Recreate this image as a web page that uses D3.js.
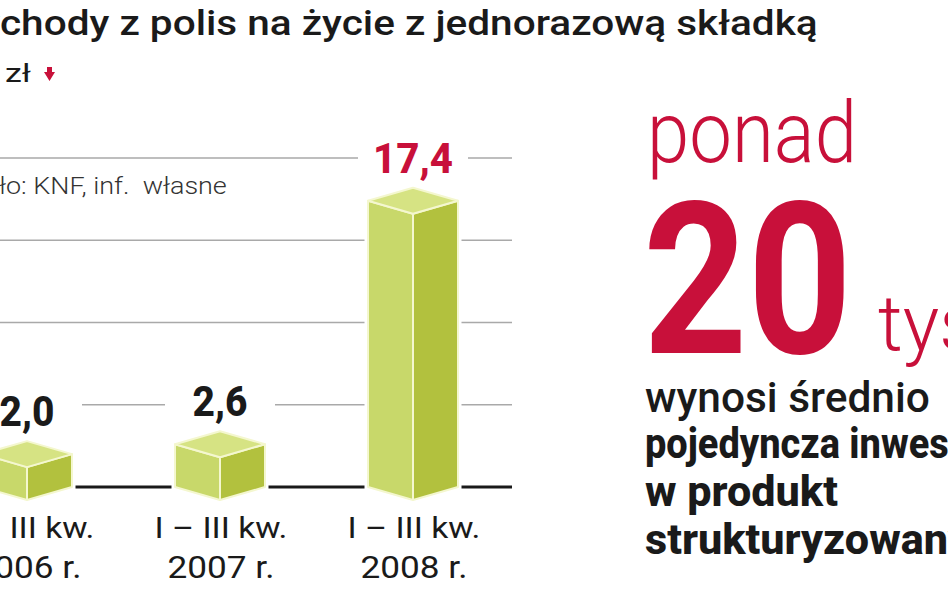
<!DOCTYPE html>
<html><head><meta charset="utf-8">
<script src="https://cdn.jsdelivr.net/npm/d3@7"></script>
<style>html,body{margin:0;padding:0;background:#fff;overflow:hidden}svg{display:block}text{white-space:pre}</style>
</head><body>
<script>
// ---- data ----
const periods = ["I – III kw.", "I – III kw.", "I – III kw."];
const years = ["2006 r.", "2007 r.", "2008 r."];
const values = [2.0, 2.6, 17.4];
const valueLabels = ["2,0", "2,6", "17,4"];
const gridTicks = [5, 10, 15, 20];
const title = "Przychody z polis na życie z jednorazową składką";
const unit = "w mld zł";
const source = "Źródło: KNF, inf.  własne";
const bigPre = "ponad";
const bigNum = "20";
const bigUnit = "tys. zł";
const sideLines = ["wynosi średnio", "pojedyncza inwestycja", "w produkt", "strukturyzowany"];

const W = 948, H = 593;
const RED = "#c8103a", FONT = "Roboto, 'DejaVu Sans', sans-serif";
const svg = d3.select("body").append("svg").attr("width", W).attr("height", H);
svg.append("rect").attr("width", W).attr("height", H).attr("fill", "#fff");

// helper: draw text, scale horizontally so that substring [s, s+n) has given width
function txt(o) {
  const t = svg.append("text").text(o.text)
    .attr("font-family", FONT).attr("font-size", o.size)
    .attr("font-weight", o.weight || 400).attr("fill", o.fill || "#1a1a1a");
  const node = t.node();
  const s = o.start || 0, n = o.len == null ? o.text.length - s : o.len;
  const w = node.getSubStringLength(s, n);
  const off = s > 0 ? node.getSubStringLength(0, s) : 0;
  const sx = o.width ? o.width / w : 1;
  let x0;
  if (o.anchor === "middle") x0 = o.x - (node.getComputedTextLength() * sx) / 2;
  else x0 = o.x - off * sx;
  t.attr("transform", `translate(${x0},${o.y}) scale(${sx},1)`);
  return t;
}

// ---- scales ----
const y = d3.scaleLinear().domain([0, 20]).range([487, 158]);
const x = d3.scalePoint().domain(years).range([27, 413]);
const hw = 45, dep = 13;

// gridlines
svg.append("g").selectAll("line").data(gridTicks).join("line")
  .attr("x1", 0).attr("x2", 512).attr("y1", d => y(d)).attr("y2", d => y(d))
  .attr("stroke", "#a9a9a9").attr("stroke-width", 1.6);
// baseline
svg.append("line").attr("x1", 0).attr("x2", 512).attr("y1", y(0)).attr("y2", y(0))
  .attr("stroke", "#1a1a1a").attr("stroke-width", 3);

const data = years.map((yr, i) => ({yr, per: periods[i], v: values[i], lab: valueLabels[i]}));

// white knockouts behind value labels
svg.append("g").selectAll("rect").data(data).join("rect")
  .attr("x", d => x(d.yr) - 55).attr("width", 110)
  .attr("y", d => y(d.v) - dep - 50).attr("height", 40).attr("fill", "#fff");

// bars (3D boxes)
const bars = svg.append("g").selectAll("g").data(data).join("g");
const pts = a => a.map(p => p.join(",")).join(" ");
bars.append("polygon").attr("points", d => {
  const c = x(d.yr), t = y(d.v), b = y(0);
  return pts([[c - hw, t], [c, t - dep], [c + hw, t], [c + hw, b], [c, b + dep], [c - hw, b]]);
}).attr("fill", "#fff").attr("stroke", "#fff").attr("stroke-width", 7);
bars.append("polygon").attr("points", d => {
  const c = x(d.yr), t = y(d.v), b = y(0);
  return pts([[c - hw, t], [c, t + dep], [c, b + dep], [c - hw, b]]);
}).attr("fill", "#c8d86a").attr("stroke", "#f4f7cf").attr("stroke-width", 2).attr("stroke-linejoin", "round");
bars.append("polygon").attr("points", d => {
  const c = x(d.yr), t = y(d.v), b = y(0);
  return pts([[c, t + dep], [c + hw, t], [c + hw, b], [c, b + dep]]);
}).attr("fill", "#b2c13e").attr("stroke", "#f4f7cf").attr("stroke-width", 2).attr("stroke-linejoin", "round");
bars.append("polygon").attr("points", d => {
  const c = x(d.yr), t = y(d.v);
  return pts([[c - hw, t], [c, t - dep], [c + hw, t], [c, t + dep]]);
}).attr("fill", "#d6e383").attr("stroke", "#f4f7cf").attr("stroke-width", 2).attr("stroke-linejoin", "round");

// value labels
data.forEach((d, i) => {
  txt({text: d.lab, x: x(d.yr), y: y(d.v) - dep - 15, size: 42, weight: 800,
       fill: i === data.length - 1 ? RED : "#1a1a1a", anchor: "middle",
       width: d.lab.length > 3 ? 80 : 55});
});

// category labels
data.forEach(d => {
  txt({text: d.per, x: x(d.yr) + 1, y: 538, size: 30, weight: 400, anchor: "middle", width: 133, fill: "#1a1a1a"});
  txt({text: d.yr, x: x(d.yr) + 1, y: 578, size: 31, weight: 400, anchor: "middle", width: 107, fill: "#1a1a1a"});
});

// title, unit, source
txt({text: title, x: 0, y: 35, size: 35, weight: 500, start: 4, width: 818, fill: "#1a1a1a"});
txt({text: unit, x: 5, y: 82, size: 26, weight: 400, start: 6, len: 2, width: 26, fill: "#1a1a1a"});
svg.append("path").attr("d", "M47,67 L52,67 L52,72 L55,72 L49.5,81 L44,72 L47,72 Z").attr("fill", RED);
txt({text: source, x: -1, y: 194, size: 23, weight: 300, start: 4, width: 228, fill: "#333"});

// right panel
txt({text: bigPre, x: 647, y: 162, size: 85, weight: 300, width: 210, fill: RED});
txt({text: bigNum, x: 643, y: 353, size: 212, weight: 700, width: 209, fill: RED});
txt({text: bigUnit, x: 878, y: 350, size: 78, weight: 300, start: 0, len: 3, width: 100, fill: RED});
txt({text: sideLines[0], x: 645, y: 412, size: 42, weight: 500, width: 285, fill: "#1a1a1a"});
txt({text: sideLines[1], x: 645, y: 458, size: 42, weight: 800, start: 0, len: 10, width: 195, fill: "#1a1a1a"});
txt({text: sideLines[2], x: 645, y: 506, size: 42, weight: 800, width: 193, fill: "#1a1a1a"});
txt({text: sideLines[3], x: 645, y: 554, size: 42, weight: 800, start: 0, len: 14, width: 303, fill: "#1a1a1a"});
</script>
</body></html>
